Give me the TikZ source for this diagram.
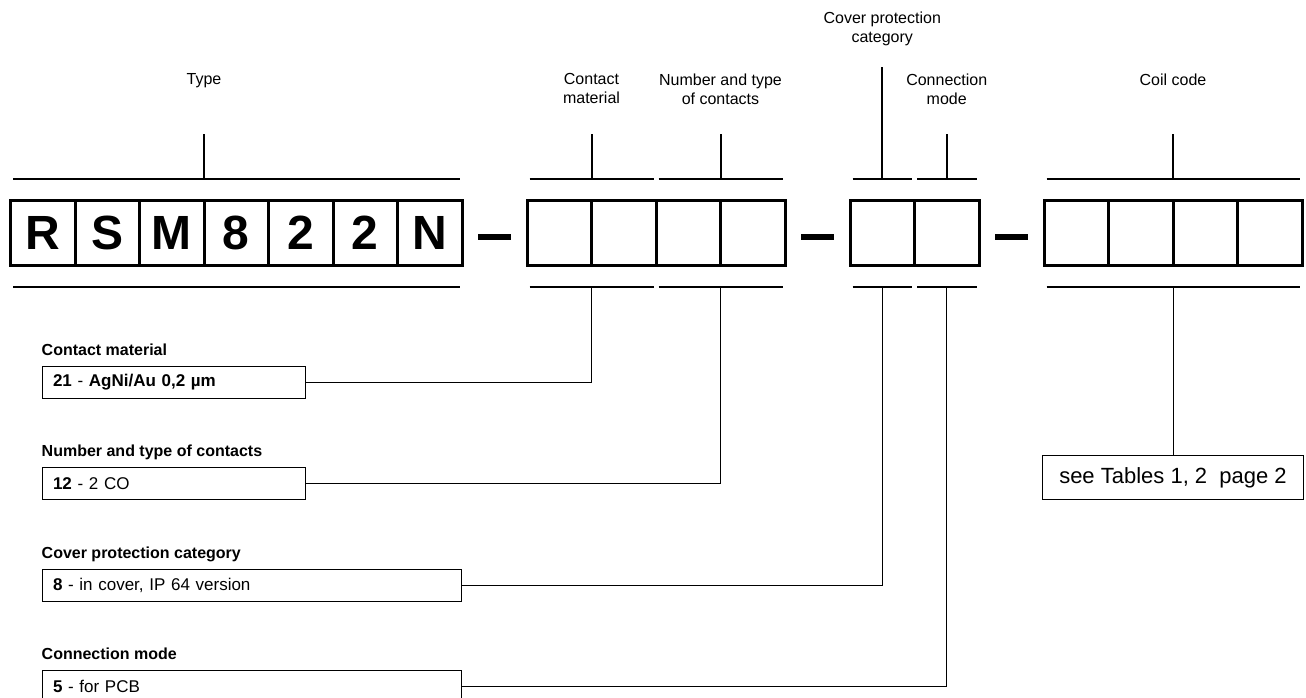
\documentclass[tikz,border=0pt]{standalone}
\usepackage{fontspec}
\setmainfont{Liberation Sans}
\usetikzlibrary{positioning,calc}

\begin{document}
\begin{tikzpicture}[x=1pt, y=-1pt, node distance=16pt,
    cell/.style={draw,line width=3pt,minimum size=64.5pt,inner sep=0pt,outer sep=0pt,font=\fontsize{48}{48}\selectfont\bfseries},
    dashbar/.style={fill,minimum width=33pt,minimum height=6pt,inner sep=0pt,outer sep=0pt},
    bar/.style={line width=2pt,shorten <=2.5pt,shorten >=2.5pt},
    tick/.style={line width=2pt},
    link/.style={line width=1pt},
    lab/.style={align=center,anchor=north,inner sep=0pt,font=\fontsize{16}{19}\selectfont},
    ltitle/.style={inner sep=0pt,text depth=0pt,font=\fontsize{16}{19}\selectfont\bfseries},
    lbox/.style={draw,line width=1pt,anchor=north west,align=left,inner xsep=11pt,inner ysep=0pt,minimum height=32pt,font=\fontsize{17}{20}\selectfont}
    ]
    \useasboundingbox (0,0) rectangle (1306,697);
    \coordinate (up) at (0,179);
    \coordinate (dn) at (0,287);
    \coordinate (top) at (0,134);
    \coordinate (hi) at (0,67);
    \coordinate (txt) at (0,73.5);
    \coordinate (txt2) at (0,11.5);
    % code boxes
    \node (c1) [cell] at (42.75,233) {R};
    \node (c2) [cell,right=0pt of c1] {S};
    \node (c3) [cell,right=0pt of c2] {M};
    \node (c4) [cell,right=0pt of c3] {8};
    \node (c5) [cell,right=0pt of c4] {2};
    \node (c6) [cell,right=0pt of c5] {2};
    \node (c7) [cell,right=0pt of c6] {N};
    \node (d1) [dashbar,right=of c7,yshift=-4pt] {};
    \node (c8) [cell,right=of d1,yshift=4pt] {};
    \node (c9) [cell,right=0pt of c8] {};
    \node (c10) [cell,right=0pt of c9] {};
    \node (c11) [cell,right=0pt of c10] {};
    \node (d2) [dashbar,right=of c11,yshift=-4pt] {};
    \node (c12) [cell,right=of d2,yshift=4pt] {};
    \node (c13) [cell,right=0pt of c12] {};
    \node (d3) [dashbar,right=of c13,yshift=-4pt] {};
    \node (c14) [cell,right=of d3,yshift=4pt] {};
    \node (c15) [cell,right=0pt of c14] {};
    \node (c16) [cell,right=0pt of c15] {};
    \node (c17) [cell,right=0pt of c16] {};
    % brackets
    \foreach \a/\b in {c1/c7,c8/c9,c10/c11,c12/c12,c13/c13,c14/c17}{
        \draw[bar] (\a.west |- up) -- (\b.east |- up);
        \draw[bar] (\a.west |- dn) -- (\b.east |- dn);
    }
    \draw[tick] (c4.west |- up) -- (c4.west |- top);
    \draw[tick] (c8.east |- up) -- (c8.east |- top);
    \draw[tick] (c10.east |- up) -- (c10.east |- top);
    \draw[tick] (c12 |- up) -- (c12 |- hi);
    \draw[tick] (c13 |- up) -- (c13 |- top);
    \draw[tick] (c15.east |- up) -- (c15.east |- top);
    \node (lType) [lab] at (c4.west |- txt) {Type};
    \node (lMat) [lab] at (c8.east |- txt) {Contact\\material};
    \node (lNum) [lab] at (c10.east |- txt) {Number and type\\of contacts};
    \node (lCov) [lab] at (c12 |- txt2) {Cover protection\\category};
    \node (lCon) [lab] at (c13 |- txt) {Connection\\mode};
    \node (lCoil) [lab] at (c15.east |- txt) {Coil code};
    % legend
    \coordinate (kMat) at (c8.east |- dn);
    \coordinate (kNum) at (c10.east |- dn);
    \coordinate (kCov) at (c12 |- dn);
    \coordinate (kCon) at (c13 |- dn);
    \coordinate (kCoil) at (c15.east |- dn);
    \node (bMat) [lbox,text width=241.5pt] at (41.5,366) {\textbf{21} - \textbf{AgNi/Au 0,2 µm}};
    \node (bNum) [lbox,text width=241.5pt] at (41.5,467) {\textbf{12} - 2 CO};
    \node (bCov) [lbox,text width=397pt] at (41.5,569) {\textbf{8} - in cover, IP 64 version};
    \node (bCon) [lbox,text width=397pt] at (41.5,670) {\textbf{5} - for PCB};
    \node (tMat) [ltitle,above right=10.5pt and 0pt of bMat.north west] {Contact material};
    \node (tNum) [ltitle,above right=10.5pt and 0pt of bNum.north west] {Number and type of contacts};
    \node (tCov) [ltitle,above right=10.5pt and 0pt of bCov.north west] {Cover protection category};
    \node (tCon) [ltitle,above right=10.5pt and 0pt of bCon.north west] {Connection mode};
    \node (bCoil) [draw,line width=1pt,minimum width=261pt,minimum height=44pt,font=\fontsize{22}{26}\selectfont,below=168pt of kCoil] {see Tables 1, 2~~page 2};
    \draw[link] (bMat) -| (kMat);
    \draw[link] (bNum) -| (kNum);
    \draw[link] (bCov) -| (kCov);
    \draw[link] (bCon) -| (kCon);
    \draw[link] (kCoil) -- (bCoil);
\end{tikzpicture}
\end{document}
